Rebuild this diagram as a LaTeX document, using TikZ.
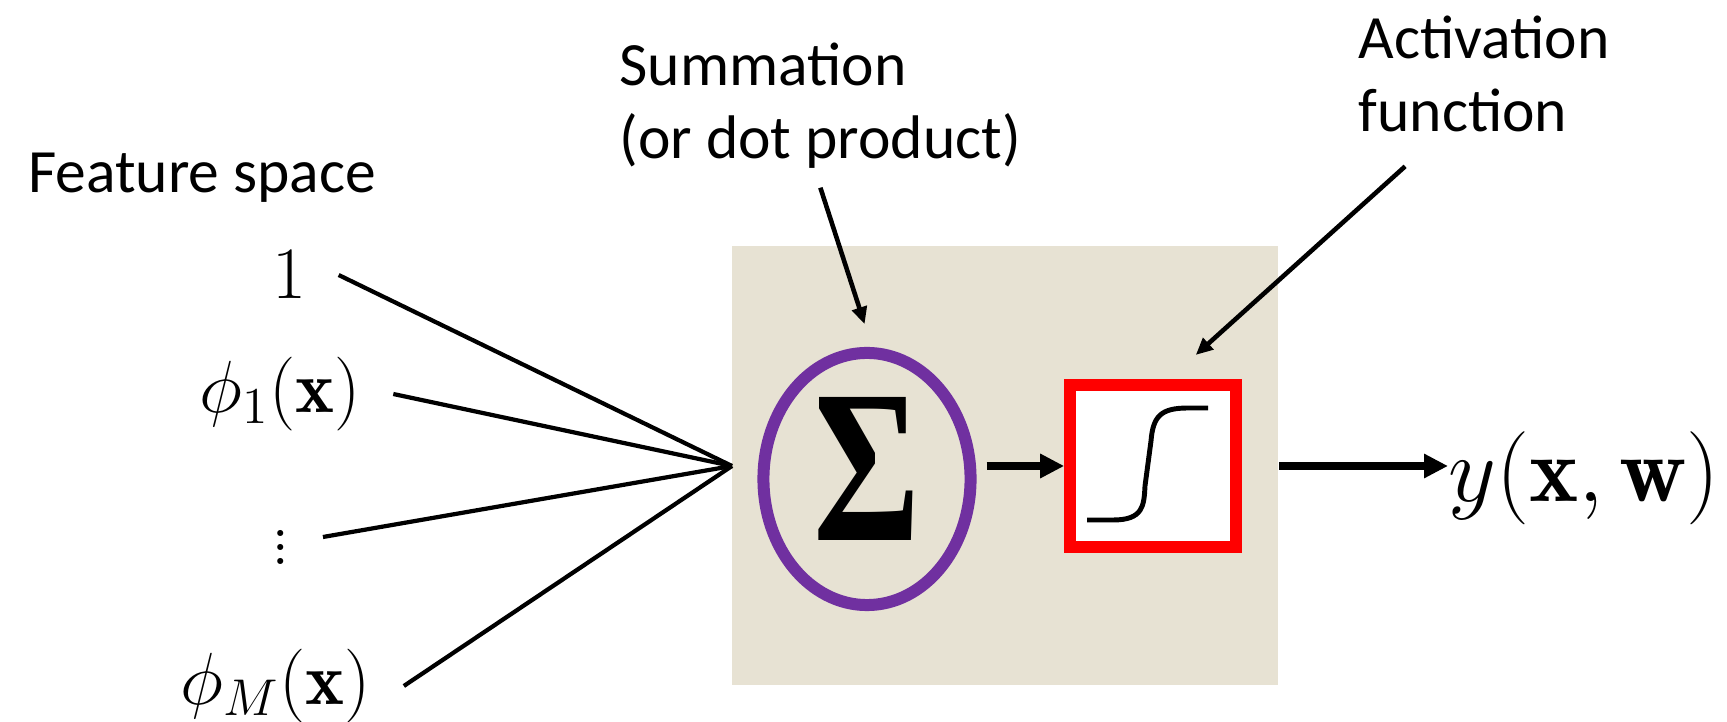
\RequirePackage{fix-cm}
\documentclass[tikz,border=0pt]{standalone}
\usepackage{fontspec}
\newfontfamily\calibri{Carlito}
\newfontfamily\sigmafont{Liberation Serif}
\usetikzlibrary{arrows.meta,shapes.geometric}
\definecolor{boxtan}{RGB}{231,226,211}
\definecolor{sumpurple}{HTML}{7030A0}
\begin{document}
\begin{tikzpicture}[x=0.01cm,y=-0.01cm,
		lbl/.style={font=\calibri\fontsize{17.5}{20.7}\selectfont,inner sep=0pt,align=left},
		feat/.style={font=\fontsize{21}{25}\selectfont,inner xsep=0.32cm,inner ysep=0pt},
		feed/.style={line width=1.2pt},
		callout/.style={line width=1.3pt,-{Triangle[length=0.17cm,width=0.15cm]}},
		flow/.style={line width=2.4pt,-{Triangle[length=0.24cm,width=0.23cm]}}]
	\useasboundingbox (0,0) rectangle (1727,722);
	\fill[color=boxtan] (732,246) rectangle (1278,685);
	\node[lbl,anchor=base west] (featlbl) at (27.5,193) {Feature space};
	\node[lbl,anchor=north west] (sumlbl) at (619,42) {Summation\\(or dot product)};
	\node[lbl,anchor=north west] (actlbl) at (1358,15) {Activation\\function};
	\node[feat] (one) at (289,275) {$1$};
	\node[feat] (phione) at (280,394) {$\phi_1(\mathbf{x})$};
	\node[feat] (dots) at (281,537) {$\vdots$};
	\node[feat] (phiM) at (276,686) {$\phi_M(\mathbf{x})$};
	\coordinate (hub) at (732,466);
	\draw[feed] (one.east) -- (hub);
	\draw[feed] (phione.east) -- (hub);
	\draw[feed] (dots.east) -- (hub);
	\draw[feed] (phiM.east) -- (hub);
	\node[ellipse,draw=sumpurple,line width=0.12cm,minimum width=2.07cm,minimum height=2.52cm,inner sep=0pt] (sum) at (867,479)
		{\raisebox{0.2cm}{\resizebox{1.07cm}{1.43cm}{\sigmafont\bfseries Σ}}};
	\node[draw=red,line width=0.12cm,fill=white,minimum width=1.655cm,minimum height=1.62cm,inner sep=0pt] (act) at (1153,466) {};
	\draw[line width=1.4pt,shift={(act.center)}] (-66,54) -- (-40,54) .. controls (-10,54) and (-9,40) .. (-8,20) -- (-2,-25) .. controls (0,-50) and (8,-58) .. (35,-58) -- (55,-58);
	\node[font=\fontsize{26.5}{30}\selectfont,inner xsep=0pt,anchor=west] (out) at (1448,478) {$y(\mathbf{x},\mathbf{w})$};
	\draw[flow,shorten <=0.1cm] (sum.east |- act.west) -- (act.west);
	\draw[flow,shorten <=0.375cm] (act.east) -- (act.east -| out.west);
	\draw[callout,shorten <=0.2cm,shorten >=0.24cm] ([xshift=-0.06cm]sumlbl.south) -- ([xshift=0.05cm]sum.north);
	\draw[callout,shorten <=0.51cm] ([xshift=0.85cm]actlbl.south west) -- ([xshift=-0.46cm,yshift=0.24cm]act.north east);
\end{tikzpicture}
\end{document}
